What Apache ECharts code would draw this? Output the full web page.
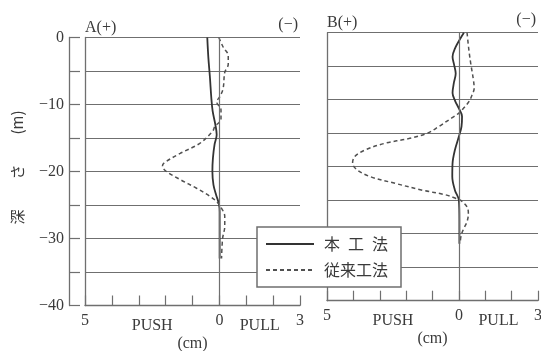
<!DOCTYPE html>
<html>
<head>
<meta charset="utf-8">
<script src="https://cdn.jsdelivr.net/npm/echarts@6/dist/echarts.min.js"></script>
<style>
html,body{margin:0;padding:0;background:#fff;}
#c{width:541px;height:351px;}
</style>
</head>
<body>
<div id="c"></div>
<script>
// Depth (m, positive downward) and displacement (cm, PUSH negative / PULL positive)
const depthA_solid = [0, 3, 6, 9, 11, 13, 14.5, 16, 18, 20, 22, 23.5, 24.8, 26, 29, 33];
const dispA_solid  = [-0.45, -0.41, -0.35, -0.3, -0.25, -0.15, -0.1, -0.18, -0.24, -0.26, -0.22, -0.12, -0.02, 0.01, 0.01, 0.01];

const depthA_dash = [0, 1.5, 2.7, 4.0, 5.2, 7.6, 8.8, 9.6, 10.8, 12.2, 13.3, 14, 15.8, 17.3, 18.7, 19.2, 20, 21.2, 22.5, 23.7, 24.5, 25.5, 26.7, 28.2, 30, 33];
const dispA_dash  = [-0.02, 0.15, 0.33, 0.33, 0.2, 0.14, 0.02, -0.1, 0.06, 0.06, -0.17, -0.25, -0.73, -1.46, -2.05, -2.12, -1.97, -1.46, -0.85, -0.35, -0.1, 0.08, 0.2, 0.2, 0.12, 0.08];

const depthB_solid = [0, 0.9, 2.2, 3.6, 4.8, 6.1, 7.5, 9, 10.2, 11.3, 12.5, 14, 15.5, 17.5, 19.5, 21.5, 23.5, 25, 28, 31.5];
const dispB_solid  = [0.19, 0.05, -0.13, -0.24, -0.18, -0.12, -0.19, -0.24, -0.14, 0.0, 0.12, 0.1, 0, -0.15, -0.24, -0.25, -0.15, 0, 0.02, 0.02];

const depthB_dash = [0, 2.6, 4.6, 7, 8.3, 9.3, 10.3, 11.3, 12, 12.8, 14, 15, 15.8, 16.5, 17.5, 18.5, 19.5, 20.5, 21.5, 22.5, 23.5, 24.2, 24.7, 25, 26, 27, 28.2, 29.2, 30.2, 31.3];
const dispB_dash  = [0.31, 0.38, 0.45, 0.55, 0.58, 0.5, 0.38, 0.17, 0, -0.3, -0.76, -1.2, -1.9, -2.8, -3.55, -3.95, -4.03, -3.85, -3.35, -2.4, -1.39, -0.5, -0.13, 0.06, 0.31, 0.36, 0.31, 0.19, 0.09, 0.05];

const xTickLabels = {'-5': '5', '0': '0', '3': '3'};
const sideLabels = {'-2.5': 'PUSH', '1.5': 'PULL'};
const seriesNames = ['本工法', '従来工法'];
const panelTitles = [['A(+)', '(−)'], ['B(+)', '(−)']];

const serif = 'Liberation Serif';
const cjk = 'Noto Sans CJK JP';
const gridColor = '#6f6f6f';
const textColor = '#3a3a3a';

function pts(disp, depth){ return disp.map((v,i)=>[v, -depth[i]]); }

function mainX(gi){
  return {
    gridIndex: gi, type: 'value', min: -5, max: 3, interval: 1, position: 'bottom',
    axisLine: {show: true, onZero: false, lineStyle: {color: gridColor, width: 1.3}},
    axisTick: {show: true, inside: true, length: 10, lineStyle: {color: gridColor, width: 1.2}},
    axisLabel: {show: true, margin: 7, fontFamily: serif, fontSize: 16, color: textColor,
      formatter: v => xTickLabels[String(v)] || ''},
    splitLine: {show: false},
    name: '(cm)', nameLocation: 'middle', nameGap: 30,
    nameTextStyle: {fontFamily: serif, fontSize: 16, color: textColor}
  };
}
function sideX(gi){
  return {
    gridIndex: gi, type: 'value', min: -5, max: 3, interval: 0.5, position: 'bottom',
    axisLine: {show: false}, axisTick: {show: false}, splitLine: {show: false},
    axisLabel: {show: true, margin: 12, fontFamily: serif, fontSize: 16, color: textColor,
      formatter: v => sideLabels[String(v)] || ''}
  };
}
function frameY(gi){
  return {
    gridIndex: gi, type: 'value', min: -40, max: 0, interval: 5, position: 'left', offset: 0,
    axisLine: {show: true, onZero: false, lineStyle: {color: gridColor, width: 1.3}},
    axisTick: {show: false}, axisLabel: {show: false},
    splitLine: {show: true, lineStyle: {color: gridColor, width: 1.2}}
  };
}

const zeroLine = {
  silent: true, symbol: ['none', 'none'], label: {show: false},
  lineStyle: {color: gridColor, width: 1.2, type: 'solid'},
  emphasis: {disabled: true},
  data: [{xAxis: 0}]
};

function lineSeries(name, xi, yi, data, dashed, withZero){
  const s = {
    name: name, type: 'line', xAxisIndex: xi, yAxisIndex: yi, data: data,
    symbol: 'none', smooth: 0.35, animation: false,
    lineStyle: dashed ? {color: '#505050', width: 1.5, type: [4, 3]} : {color: '#333', width: 1.8, type: 'solid'},
    itemStyle: {color: dashed ? '#505050' : '#333'}
  };
  if (withZero) s.markLine = zeroLine;
  return s;
}

const chart = echarts.init(document.getElementById('c'), null, {renderer: 'canvas'});
const option = {
  backgroundColor: '#fff',
  animation: false,
  grid: [
    {left: 85, top: 37.5, width: 215, height: 268, outerBoundsMode: 'none', containLabel: false},
    {left: 327, top: 32.7, width: 211, height: 268, outerBoundsMode: 'none', containLabel: false}
  ],
  xAxis: [mainX(0), sideX(0), mainX(1), sideX(1)],
  yAxis: [
    {
      gridIndex: 0, type: 'value', min: -40, max: 0, interval: 5, position: 'left', offset: 16,
      axisLine: {show: true, onZero: false, lineStyle: {color: gridColor, width: 1.3}},
      axisTick: {show: true, inside: true, length: 11, lineStyle: {color: gridColor, width: 1.2}},
      axisLabel: {show: true, margin: 5, fontFamily: serif, fontSize: 16, color: textColor,
        formatter: v => (v % 10 === 0) ? (v < 0 ? '−' + (-v) : '0') : ''},
      splitLine: {show: false},
      name: '深　　さ　　(m)', nameLocation: 'middle', nameGap: 44, nameRotate: 90,
      nameTextStyle: {fontFamily: cjk, fontSize: 15, color: textColor, padding: [0, 0, 0, 8]}
    },
    frameY(0),
    frameY(1)
  ],
  legend: {
    data: seriesNames,
    orient: 'vertical', left: 257, top: 227,
    itemWidth: 48, itemHeight: 14, itemGap: 10,
    padding: [9, 13, 9, 8],
    backgroundColor: '#fff', borderColor: gridColor, borderWidth: 1.5, borderRadius: 0,
    textStyle: {fontFamily: cjk, fontSize: 16, color: textColor, padding: [0, 0, 0, 5]},
    itemStyle: {opacity: 0},
    formatter: n => n === '本工法' ? '本\u2002工\u2002法' : n,
    selectedMode: false, z: 10
  },
  series: [
    lineSeries(seriesNames[0], 0, 1, pts(dispA_solid, depthA_solid), false, true),
    lineSeries(seriesNames[1], 0, 1, pts(dispA_dash, depthA_dash), true, false),
    lineSeries(seriesNames[0], 2, 2, pts(dispB_solid, depthB_solid), false, true),
    lineSeries(seriesNames[1], 2, 2, pts(dispB_dash, depthB_dash), true, false)
  ]
};
chart.setOption(option);

// Panel titles placed relative to each grid's corners
const graphics = [];
[[0, 0], [2, 2]].forEach((ax, gi) => {
  const tl = chart.convertToPixel({xAxisIndex: ax[0], yAxisIndex: ax[1]}, [-5, 0]);
  const tr = chart.convertToPixel({xAxisIndex: ax[0], yAxisIndex: ax[1]}, [3, 0]);
  graphics.push({type: 'text', left: tl[0], top: tl[1] - 18,
    style: {text: panelTitles[gi][0], font: '16px "' + serif + '"', fill: textColor}});
  graphics.push({type: 'text', right: 541 - tr[0] + 2, top: tr[1] - 21,
    style: {text: panelTitles[gi][1], font: '16px "' + serif + '"', fill: textColor}});
});
chart.setOption({graphic: graphics});
</script>
</body>
</html>
